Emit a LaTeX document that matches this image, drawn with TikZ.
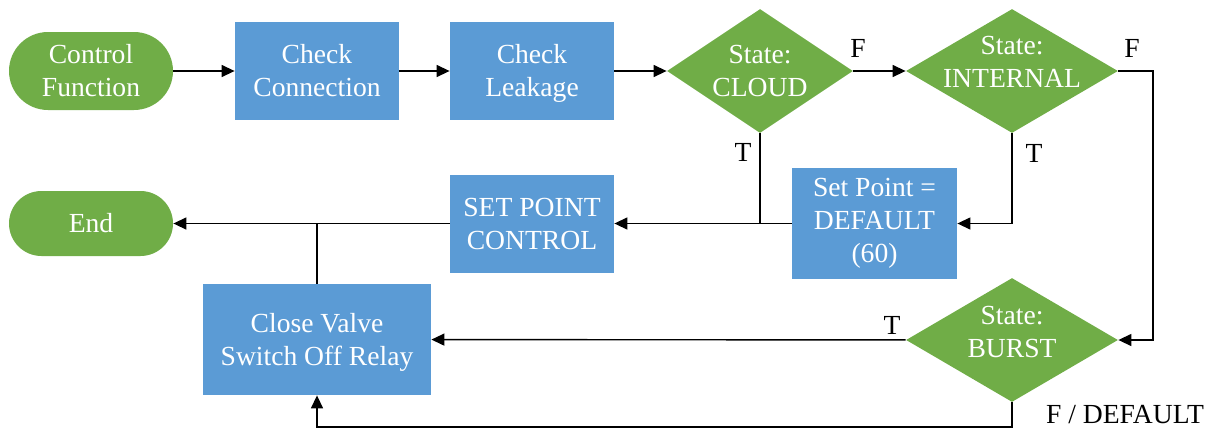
\documentclass[tikz,border=0pt]{standalone}
\usepackage{fontspec}
\setmainfont{Liberation Serif}
\usetikzlibrary{shapes.geometric,arrows.meta}
\definecolor{flowgreen}{HTML}{70AD47}
\definecolor{flowblue}{HTML}{5B9BD5}

\begin{document}
\begin{tikzpicture}[x=0.5pt,y=-0.5pt,
    every node/.style={font=\fontsize{13.8}{16.5}\selectfont},
    procbox/.style={fill=flowblue,text=white,align=center,inner sep=0pt,minimum width=82pt,minimum height=49pt},
    termbox/.style={fill=flowgreen,text=white,align=center,inner sep=0pt,minimum width=82pt},
    decide/.style={diamond,fill=flowgreen,inner sep=0pt,minimum width=106pt,minimum height=62pt},
    decidetext/.style={text=white,align=center},
    flow/.style={line width=0.7pt,-{Triangle[length=6.5pt,width=6pt]}},
    link/.style={line width=0.7pt}]
    \useasboundingbox (0,0) rectangle (1216,429);
    % top row
    \node[termbox,minimum height=39pt,rounded corners=19.5pt] (start) at (91,71) {Control\\Function};
    \node[procbox] (conn) at (317,71) {Check\\Connection};
    \node[procbox] (leak) at (532,71) {Check\\Leaka\smash{g}e};
    \node[decide,minimum width=93pt,label={[decidetext]center:{State:\\CLOUD}}] (cloud) at (760,71) {};
    \node[decide,label={[decidetext,yshift=4.5pt]center:{State:\\INTERNAL}}] (internal) at (1012,71) {};
    % middle row
    \node[termbox,minimum height=32.5pt,rounded corners=16.25pt] (end) at (91,223.5) {End};
    \node[procbox] (spc) at (532,223.5) {SET POINT\\CONTROL};
    \node[procbox,minimum width=82.5pt,minimum height=55.5pt] (default) at (874.5,223.5) {Set Point =\\DEFAULT\\(60)};
    % bottom row
    \node[procbox,minimum width=114pt,minimum height=55.5pt] (valve) at (317,339.5) {Close Valve\\Switch Off Rela\smash{y}};
    \node[decide,label={[decidetext,yshift=4pt]center:{State:\\BURST}}] (burst) at (1012,340) {};
    \coordinate (fright) at (1153,71);
    \coordinate (fbottom) at (1012,427);
    % connectors
    \draw[flow] (start) -- (conn);
    \draw[flow] (conn) -- (leak);
    \draw[flow] (leak) -- (cloud);
    \draw[flow] (cloud) -- (internal);
    \draw[flow] (internal.east) -- (fright) |- (burst.east);
    \draw[flow] (internal.south) |- (default.east);
    \draw[flow] (default) -- (spc);
    \draw[link] (cloud.south) -- (cloud.south |- default.west);
    \draw[flow] (spc) -- (end);
    \draw[link] (valve.north) -- (valve.north |- end.east);
    \draw[flow] (burst) -- (valve);
    \draw[flow] (burst.south) -- (fbottom) -| (valve.south);
    % labels
    \node (fcloud) at (858,48) {F};
    \node (finternal) at (1132,48) {F};
    \node (tcloud) at (743,152) {T};
    \node (tinternal) at (1034,153) {T};
    \node (tburst) at (892,325) {T};
    \node (fburst) at (1125,415) {F / DEFAULT};
\end{tikzpicture}
\end{document}
